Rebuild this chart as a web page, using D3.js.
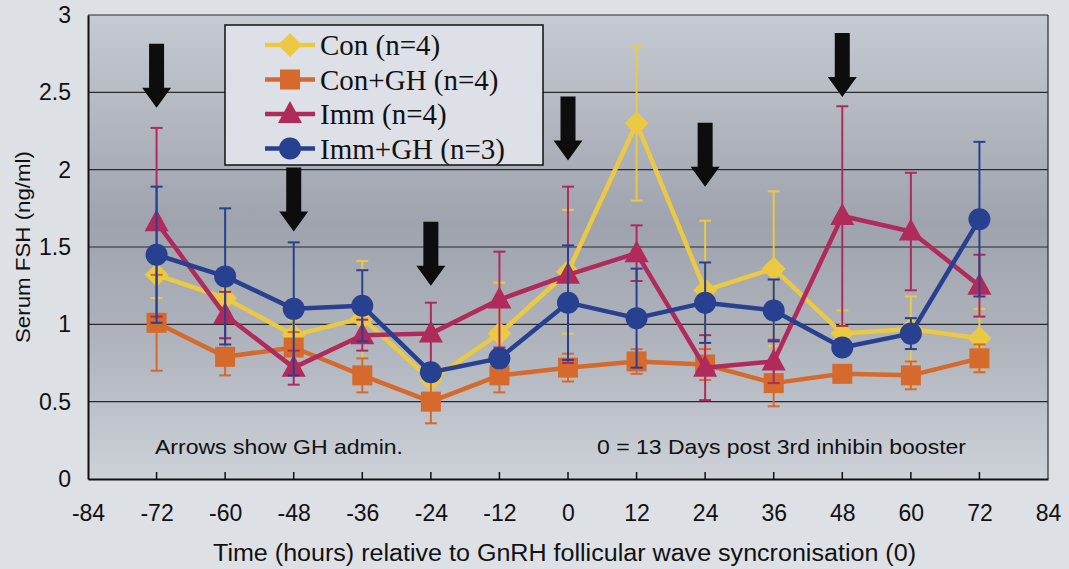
<!DOCTYPE html>
<html><head><meta charset="utf-8">
<script src="https://cdn.jsdelivr.net/npm/d3@7"></script>
<style>html,body{margin:0;padding:0;background:#dde0e5;}svg{display:block;}</style>
</head><body>
<script>
const times = [-72,-60,-48,-36,-24,-12,0,12,24,36,48,60,72];
const xTicks = [-84,-72,-60,-48,-36,-24,-12,0,12,24,36,48,60,72,84];
const yTicks = [0,0.5,1,1.5,2,2.5,3];
const seriesNames = ["Con (n=4)","Con+GH (n=4)","Imm (n=4)","Imm+GH (n=3)"];
const conMean   = [1.32,1.17,0.93,1.04,0.64,0.94,1.34,2.30,1.22,1.36,0.94,0.97,0.91];
const conErr    = [0.15,0.15,0.10,0.37,0.10,0.33,0.40,0.50,0.45,0.50,0.15,0.21,0.19];
const conGHMean = [1.01,0.79,0.85,0.67,0.50,0.67,0.72,0.76,0.74,0.62,0.68,0.67,0.78];
const conGHErr  = [0.31,0.12,0.10,0.11,0.14,0.11,0.09,0.08,0.10,0.15,0.05,0.09,0.09];
const immMean   = [1.66,1.06,0.72,0.93,0.94,1.16,1.32,1.46,0.72,0.76,1.70,1.60,1.25];
const immErr    = [0.61,0.15,0.11,0.10,0.20,0.31,0.57,0.18,0.21,0.14,0.71,0.38,0.20];
const immGHMean = [1.45,1.31,1.10,1.12,0.69,0.78,1.14,1.04,1.14,1.09,0.85,0.94,1.68];
const immGHErr  = [0.44,0.44,0.43,0.23,0.05,0.05,0.37,0.32,0.26,0.20,0.05,0.10,0.50];
const arrowTimes = [-72,-48,-24,0,24,48];
const arrowTips  = [2.40,1.60,1.25,2.06,1.89,2.47];
const noteLeft = "Arrows show GH admin.";
const noteRight = "0 = 13 Days post 3rd inhibin booster";
const xTitle = "Time (hours) relative to GnRH follicular wave syncronisation (0)";
const yTitle = "Serum FSH (ng/ml)";

const colors = ["#ebc943","#d6692c","#b02a5c","#27408f"];
const markers = ["diamond","square","triangle","circle"];
const series = [
  {name:seriesNames[0], mean:conMean, err:conErr},
  {name:seriesNames[1], mean:conGHMean, err:conGHErr},
  {name:seriesNames[2], mean:immMean, err:immErr},
  {name:seriesNames[3], mean:immGHMean, err:immGHErr}
];

const W=1069,H=569;
const L=88,R=1048,T=15,B=479;
const SANS="Liberation Sans, Arial, sans-serif";
const svg=d3.select("body").append("svg").attr("width",W).attr("height",H);
const defs=svg.append("defs");
const g1=defs.append("linearGradient").attr("id","pg").attr("x1",0).attr("y1",0).attr("x2",0).attr("y2",1);
[[0,"#c6cad2"],[0.2,"#b4b9c2"],[0.45,"#9ea3ad"],[0.7,"#aeb3bc"],[1,"#cdd1d8"]].forEach(s=>g1.append("stop").attr("offset",s[0]).attr("stop-color",s[1]));

const x=d3.scaleLinear().domain([-84,84]).range([L,R]);
const y=d3.scaleLinear().domain([0,3]).range([B,T]);

svg.append("rect").attr("x",L).attr("y",T).attr("width",R-L).attr("height",B-T).attr("fill","url(#pg)");

// gridlines
svg.append("g").selectAll("line").data(yTicks.filter(v=>v>0)).join("line")
  .attr("x1",L).attr("x2",R).attr("y1",d=>y(d)).attr("y2",d=>y(d))
  .attr("stroke","#2a2a2e").attr("stroke-width",1.2);
svg.append("line").attr("x1",R).attr("x2",R).attr("y1",T).attr("y2",B).attr("stroke","#2a2a2e").attr("stroke-width",1.2);

// axes
const xa=svg.append("g").attr("transform",`translate(0,${B})`)
  .call(d3.axisBottom(x).tickValues(xTicks).tickSize(0).tickPadding(26).tickFormat(d=>String(d)));
xa.select(".domain").attr("stroke","#111").attr("stroke-width",2);
xa.selectAll("text").attr("font-family",SANS).attr("font-size",23).attr("fill","#111");
svg.append("g").selectAll("line").data(xTicks.filter(v=>v>-84&&v<84)).join("line")
  .attr("x1",d=>x(d)).attr("x2",d=>x(d)).attr("y1",B).attr("y2",B-7).attr("stroke","#111").attr("stroke-width",1.5);
const ya=svg.append("g").attr("transform",`translate(${L},0)`)
  .call(d3.axisLeft(y).tickValues(yTicks).tickSize(0).tickPadding(17).tickFormat(d=>String(d)));
ya.select(".domain").attr("stroke","#111").attr("stroke-width",2);
ya.selectAll("text").attr("font-family",SANS).attr("font-size",23).attr("fill","#111");

// notes
svg.append("text").attr("x",155).attr("y",454).text(noteLeft)
  .attr("font-family",SANS).attr("font-size",21).attr("textLength",248).attr("lengthAdjust","spacingAndGlyphs").attr("fill","#111");
svg.append("text").attr("x",597).attr("y",454).text(noteRight)
  .attr("font-family",SANS).attr("font-size",21).attr("textLength",369).attr("lengthAdjust","spacingAndGlyphs").attr("fill","#111");

// arrows
const arrowLen=64, shaftW=15, headW=29, headH=20;
svg.append("g").selectAll("path").data(arrowTimes.map((t,i)=>({t,v:arrowTips[i]}))).join("path")
  .attr("d",d=>{const cx=x(d.t), ty=y(d.v), top=ty-arrowLen;
    return `M${cx-shaftW/2},${top}H${cx+shaftW/2}V${ty-headH}H${cx+headW/2}L${cx},${ty}L${cx-headW/2},${ty-headH}H${cx-shaftW/2}Z`;})
  .attr("fill","#0d0d0d");

function markerPath(type){
  if(type==="diamond") return "M0,-12L12,0L0,12L-12,0Z";
  if(type==="square") return "M-10,-10H10V10H-10Z";
  if(type==="triangle") return "M0,-13L12,9H-12Z";
  return d3.symbol(d3.symbolCircle,380)();
}

const line=d3.line().x((d,i)=>x(times[i])).y(d=>y(d));
series.forEach((s,si)=>{
  const g=svg.append("g");
  const c=colors[si];
  const eb=g.append("g").attr("stroke",c).attr("stroke-width",2);
  times.forEach((t,i)=>{
    const hi=y(s.mean[i]+s.err[i]), lo=y(s.mean[i]-s.err[i]), cx=x(t);
    eb.append("line").attr("x1",cx).attr("x2",cx).attr("y1",hi).attr("y2",lo);
    eb.append("line").attr("x1",cx-6).attr("x2",cx+6).attr("y1",hi).attr("y2",hi);
    eb.append("line").attr("x1",cx-6).attr("x2",cx+6).attr("y1",lo).attr("y2",lo);
  });
  g.append("path").attr("d",line(s.mean)).attr("fill","none").attr("stroke",c).attr("stroke-width",4.5).attr("stroke-linejoin","round");
  g.selectAll("path.m").data(s.mean).join("path").attr("class","m")
    .attr("transform",(d,i)=>`translate(${x(times[i])},${y(d)})`)
    .attr("d",markerPath(markers[si])).attr("fill",c);
});

// legend
const lg=svg.append("g");
lg.append("rect").attr("x",225).attr("y",25).attr("width",318).attr("height",140)
  .attr("fill","#dde0e6").attr("stroke","#111").attr("stroke-width",1.5);
series.forEach((s,si)=>{
  const ly=45+si*34.5;
  lg.append("line").attr("x1",265).attr("x2",315).attr("y1",ly).attr("y2",ly).attr("stroke",colors[si]).attr("stroke-width",4.5);
  lg.append("path").attr("transform",`translate(290,${ly})`).attr("d",markerPath(markers[si])).attr("fill",colors[si]);
  lg.append("text").attr("x",320).attr("y",ly+10).text(s.name)
    .attr("font-family","Liberation Serif, Times New Roman, serif").attr("font-size",29).attr("fill","#111");
});

// titles
svg.append("text").attr("x",213).attr("y",561).text(xTitle)
  .attr("font-family",SANS).attr("font-size",23).attr("textLength",703).attr("lengthAdjust","spacingAndGlyphs").attr("fill","#111");
svg.append("text").attr("transform","translate(30,343) rotate(-90)").text(yTitle)
  .attr("font-family",SANS).attr("font-size",21).attr("textLength",192).attr("lengthAdjust","spacingAndGlyphs").attr("fill","#111");
</script>
</body></html>
